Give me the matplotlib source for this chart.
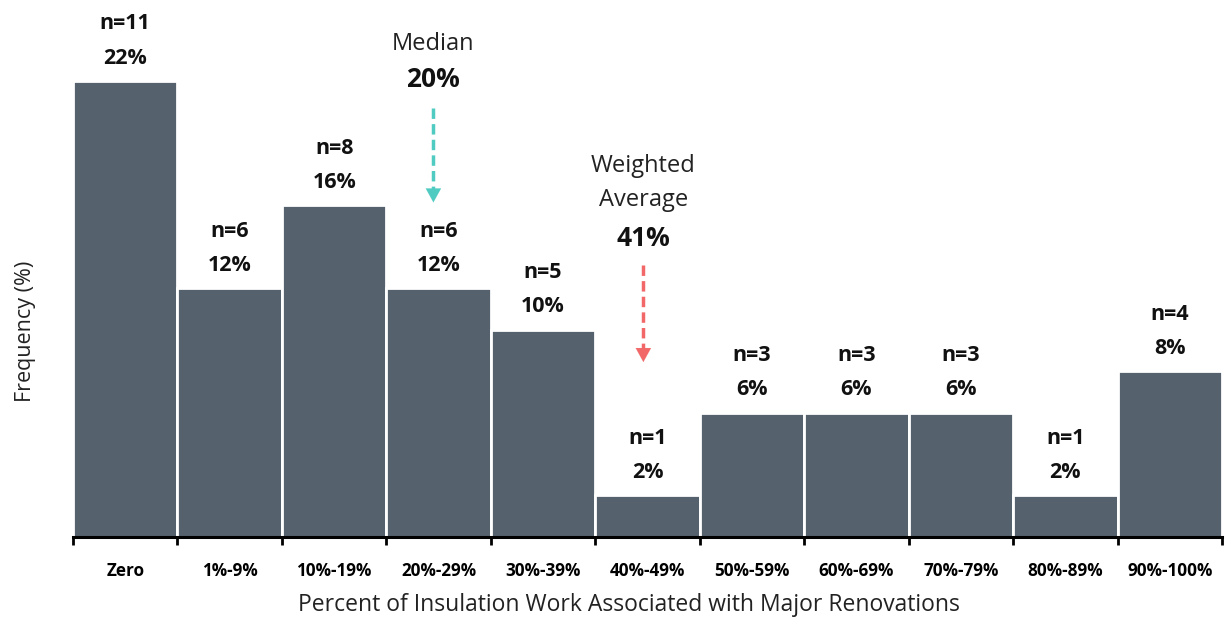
import matplotlib.pyplot as plt
import numpy as np

plt.rcParams['font.family'] = ['Open Sans', 'DejaVu Sans']

# ===== data =====
categories = ['Zero', '1%-9%', '10%-19%', '20%-29%', '30%-39%', '40%-49%',
              '50%-59%', '60%-69%', '70%-79%', '80%-89%', '90%-100%']
counts = [11, 6, 8, 6, 5, 1, 3, 3, 3, 1, 4]
percents = [22, 12, 16, 12, 10, 2, 6, 6, 6, 2, 8]

median_pos = 2.95
median_label = '20%'
wavg_pos = 4.96
wavg_label = '41%'

bar_color = '#55616D'
teal = '#4FCBC2'
red = '#F26767'

fig = plt.figure(figsize=(12.27, 6.2), dpi=100)
ax = fig.add_axes([0.0595, 0.134, 0.9365, 0.866])

x = np.arange(len(categories))
ax.bar(x, percents, width=1.0, color=bar_color, edgecolor='white', linewidth=2)

# labels over bars
for xi, n, p in zip(x, counts, percents):
    ax.text(xi, p + 1.1, f'{p}%', ha='center', va='center', fontsize=15.5,
            fontweight='bold', color='#111111')
    ax.text(xi, p + 2.75, f'n={n}', ha='center', va='center', fontsize=15.5,
            fontweight='bold', color='#111111')


def dashed_arrow(xpos, y_from, y_to, color):
    # dashed shaft + solid head
    ax.plot([xpos, xpos], [y_from, y_to + 0.5], color=color, lw=2.5,
            linestyle=(0, (3, 1.5)))
    ax.annotate('', xy=(xpos, y_to), xytext=(xpos, y_to + 0.6),
                arrowprops=dict(arrowstyle='-|>,head_width=0.55,head_length=1.0',
                                color=color, lw=0.1))


# median annotation
ax.text(median_pos, 23.8, 'Median', ha='center', va='center', fontsize=17, color='#222222')
ax.text(median_pos, 22.05, median_label, ha='center', va='center', fontsize=19,
        fontweight='bold', color='#111111')
dashed_arrow(median_pos, 20.7, 16.0, teal)

# weighted average annotation
ax.text(wavg_pos, 17.9, 'Weighted', ha='center', va='center', fontsize=17, color='#222222')
ax.text(wavg_pos, 16.26, 'Average', ha='center', va='center', fontsize=17, color='#222222')
ax.text(wavg_pos, 14.4, wavg_label, ha='center', va='center', fontsize=19,
        fontweight='bold', color='#111111')
dashed_arrow(wavg_pos, 13.1, 8.3, red)

ax.set_xlim(-0.5, len(categories) - 0.5)
ax.set_ylim(0, 25.9)

for s in ['top', 'right', 'left']:
    ax.spines[s].set_visible(False)
ax.spines['bottom'].set_linewidth(2.2)
ax.spines['bottom'].set_color('black')

ax.set_yticks([])
ax.set_xticks(x)
ax.set_xticklabels(categories, fontsize=12.3, fontweight='bold')
ax.tick_params(axis='x', which='major', length=0, pad=18)
ax.set_xticks(np.arange(-0.5, len(categories)), minor=True)
ax.tick_params(axis='x', which='minor', length=6, width=2, direction='out', color='black')

ax.set_xlabel('Percent of Insulation Work Associated with Major Renovations', fontsize=16.5,
              color='#222222')
ax.xaxis.set_label_coords(0.484, -0.105)
fig.text(0.021, 0.466, 'Frequency (%)', rotation=90, ha='center', va='center',
         fontsize=15.5, color='#222222')

fig.savefig('out.png', dpi=100)
